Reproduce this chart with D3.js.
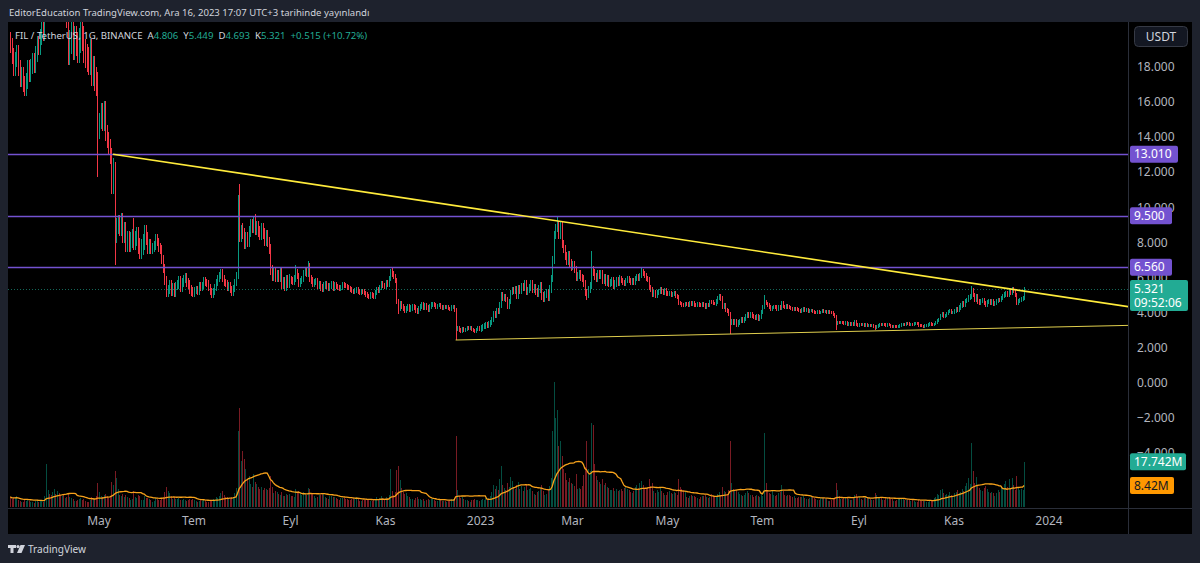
<!DOCTYPE html>
<html>
<head>
<meta charset="utf-8">
<script src="https://cdn.jsdelivr.net/npm/d3@7/dist/d3.min.js"></script>
<style>
  html, body { margin: 0; padding: 0; background: #1e222d; }
  svg { display: block; }
  text { font-family: "Noto Sans", "Open Sans", sans-serif; }
</style>
</head>
<body>
<svg id="chart" width="1200" height="563"></svg>
<script>
// FIL / TetherUS daily closes, one array per month
var close_2022_03 = [19.2, 18.6, 17.9, 18.4, 18.8, 17.9, 17.3, 17.5, 17.0, 16.8, 17.2, 17.9, 17.6, 18.0, 18.3, 18.1, 18.7, 19.3, 19.1, 19.7, 20.1, 19.9, 21.0, 22.4, 23.6, 23.2, 22.8];
var close_2022_04 = [24.5, 26.8, 25.9, 27.3, 25.6, 23.1, 23.6, 22.2, 22.5, 20.9, 18.8, 19.4, 20.0, 19.1, 19.6, 19.3, 18.9, 19.5, 20.1, 19.6, 18.9, 18.6, 18.4, 18.2, 18.9, 17.6, 17.9, 17.3, 17.0, 14.3];
var close_2022_05 = [14.9, 15.5, 14.8, 15.6, 14.2, 13.8, 13.4, 12.9, 11.2, 12.1, 8.4, 8.9, 9.1, 8.8, 9.2, 8.4, 8.7, 7.9, 8.2, 7.9, 8.1, 8.3, 8.0, 8.2, 8.4, 7.8, 7.5, 7.7, 8.0, 8.5, 8.3];
var close_2022_06 = [7.6, 7.9, 7.6, 7.7, 7.8, 8.2, 8.0, 7.7, 7.6, 7.0, 6.5, 5.8, 5.1, 5.3, 5.6, 5.2, 5.4, 5.1, 5.5, 5.6, 5.8, 5.4, 5.7, 5.9, 6.0, 5.7, 5.6, 5.3, 5.2, 5.1];
var close_2022_07 = [5.22, 5.31, 5.18, 5.52, 5.41, 5.55, 5.83, 5.71, 5.62, 5.44, 5.21, 5.02, 5.19, 5.43, 5.72, 5.91, 6.12, 6.28, 5.93, 5.71, 5.62, 5.41, 5.53, 5.31, 5.12, 5.33, 5.71, 6.12, 9.0, 8.2, 8.8];
var close_2022_08 = [8.5, 7.9, 8.3, 8.0, 8.6, 9.0, 8.8, 9.3, 8.7, 8.9, 8.6, 8.4, 8.8, 8.5, 8.1, 8.4, 8.0, 7.6, 6.4, 6.1, 6.3, 6.0, 6.1, 6.0, 6.2, 5.6, 5.7, 5.5, 5.8, 5.7, 5.9];
var close_2022_09 = [5.81, 5.72, 5.93, 6.31, 6.08, 5.62, 5.79, 5.91, 6.22, 6.41, 6.18, 6.62, 5.93, 5.81, 5.63, 5.71, 5.79, 5.52, 5.61, 5.42, 5.31, 5.52, 5.63, 5.48, 5.39, 5.51, 5.62, 5.41, 5.53, 5.49];
var close_2022_10 = [5.41, 5.33, 5.42, 5.61, 5.52, 5.49, 5.41, 5.38, 5.29, 5.21, 5.18, 5.23, 5.31, 5.19, 5.12, 5.21, 5.17, 5.09, 5.01, 4.92, 4.88, 5.02, 4.97, 4.91, 5.12, 5.31, 5.22, 5.41, 5.63, 5.52, 5.48];
var close_2022_11 = [5.71, 5.62, 5.93, 6.31, 6.18, 6.02, 5.81, 4.62, 4.21, 4.52, 4.31, 4.22, 4.11, 4.23, 4.32, 4.19, 4.24, 4.31, 4.28, 4.12, 4.03, 4.21, 4.32, 4.41, 4.29, 4.38, 4.27, 4.19, 4.31, 4.42];
var close_2022_12 = [4.51, 4.42, 4.31, 4.39, 4.42, 4.29, 4.21, 4.32, 4.28, 4.31, 4.22, 4.18, 4.29, 4.33, 4.12, 3.02, 3.11, 2.98, 2.91, 3.08, 2.99, 3.03, 3.11, 3.07, 3.12, 3.01, 2.97, 2.92, 3.03, 3.12, 3.04];
var close_2023_01 = [3.11, 3.18, 3.22, 3.31, 3.24, 3.33, 3.42, 3.61, 3.92, 3.81, 4.12, 4.03, 4.41, 5.02, 4.81, 4.92, 4.71, 4.32, 4.61, 5.12, 5.31, 5.22, 5.33, 4.92, 5.41, 5.18, 5.52, 5.39, 5.71, 5.12, 5.31];
var close_2023_02 = [5.42, 5.61, 5.32, 5.41, 5.19, 5.12, 5.31, 5.52, 4.92, 4.81, 5.02, 5.11, 4.89, 5.31, 5.92, 7.0, 8.4, 8.8, 9.0, 8.4, 8.9, 7.9, 7.6, 7.2, 6.9, 7.3, 6.8, 6.6];
var close_2023_03 = [6.71, 6.42, 6.01, 6.12, 6.21, 5.98, 5.91, 5.62, 5.11, 5.02, 5.31, 5.52, 6.41, 6.28, 6.02, 5.91, 6.22, 6.08, 6.21, 5.82, 6.01, 5.72, 5.91, 5.62, 5.71, 5.82, 5.51, 5.63, 5.81, 5.69, 5.92];
var close_2023_04 = [5.81, 5.72, 5.63, 5.81, 5.92, 5.79, 5.71, 5.82, 5.69, 5.91, 6.02, 5.91, 6.12, 6.31, 6.21, 6.09, 5.92, 5.88, 5.41, 5.31, 5.02, 5.11, 4.98, 5.12, 5.21, 5.32, 5.19, 5.11, 5.22, 5.09];
var close_2023_05 = [5.01, 5.12, 4.98, 5.03, 5.11, 4.92, 4.88, 4.52, 4.49, 4.41, 4.38, 4.51, 4.47, 4.42, 4.53, 4.48, 4.52, 4.41, 4.39, 4.51, 4.43, 4.38, 4.49, 4.41, 4.31, 4.42, 4.39, 4.61, 4.58, 4.51, 4.49];
var close_2023_06 = [4.62, 4.81, 4.92, 4.79, 4.31, 4.42, 4.12, 4.08, 3.91, 3.42, 3.51, 3.39, 3.52, 3.31, 3.42, 3.51, 3.62, 3.49, 3.61, 3.79, 3.92, 3.81, 3.89, 3.78, 3.71, 3.68, 3.79, 3.62, 3.71, 4.02];
var close_2023_07 = [4.31, 4.62, 4.51, 4.42, 4.31, 4.19, 4.28, 4.33, 4.29, 4.18, 4.31, 4.22, 4.52, 4.33, 4.29, 4.38, 4.31, 4.27, 4.21, 4.18, 4.23, 4.19, 4.16, 4.11, 4.08, 4.13, 4.18, 4.09, 4.12, 4.07, 4.11];
var close_2023_08 = [4.12, 4.05, 4.01, 3.98, 4.03, 3.99, 4.02, 4.10, 4.04, 4.06, 4.01, 4.03, 4.00, 3.97, 3.88, 3.76, 3.38, 3.42, 3.39, 3.45, 3.41, 3.33, 3.40, 3.31, 3.37, 3.30, 3.36, 3.29, 3.48, 3.31, 3.27];
var close_2023_09 = [3.30, 3.28, 3.31, 3.27, 3.29, 3.25, 3.28, 3.22, 3.24, 3.19, 3.12, 3.21, 3.24, 3.31, 3.29, 3.33, 3.30, 3.27, 3.32, 3.28, 3.21, 3.19, 3.22, 3.20, 3.17, 3.21, 3.26, 3.30, 3.33, 3.31];
var close_2023_10 = [3.38, 3.35, 3.30, 3.32, 3.28, 3.36, 3.39, 3.34, 3.27, 3.25, 3.22, 3.17, 3.24, 3.26, 3.29, 3.36, 3.31, 3.28, 3.33, 3.42, 3.55, 3.62, 3.84, 3.91, 3.78, 3.82, 3.95, 4.03, 4.12, 3.98, 4.01];
var close_2023_11 = [4.08, 4.18, 4.15, 4.27, 4.39, 4.52, 4.41, 4.63, 4.72, 4.84, 4.90, 5.28, 4.98, 4.71, 4.93, 4.62, 4.51, 4.63, 4.70, 4.52, 4.41, 4.58, 4.64, 4.53, 4.61, 4.49, 4.52, 4.63, 4.71, 4.68];
var close_2023_12 = [4.82, 4.94, 5.02, 5.11, 4.98, 5.19, 5.08, 5.31, 5.22, 4.98, 4.52, 4.63, 4.71, 4.78, 4.806, 5.321];
var firstOpen = 19.6;

// typical wick length of a day in each month (price units)
var wick_typ = [0.45, 0.7, 0.45, 0.25, 0.2, 0.3, 0.18, 0.13, 0.15, 0.1, 0.15, 0.22,
    0.2, 0.14, 0.1, 0.12, 0.1, 0.08, 0.08, 0.08, 0.12, 0.12];

// daily volume, millions of FIL
var vol_2022_03 = [4.0, 3.2, 3.6, 3.4, 4.2, 2.8, 2.5, 2.1, 1.8, 2.6, 2.4, 2.9, 2.2, 2.0, 1.9, 1.7, 2.3, 2.6, 2.1, 2.4, 2.8, 2.0, 4.5, 17.0, 6.5, 5.2, 4.8];
var vol_2022_04 = [5.8, 7.2, 5.0, 6.4, 5.6, 4.6, 4.2, 5.0, 3.4, 3.8, 5.6, 4.0, 3.5, 3.0, 2.5, 2.3, 2.6, 3.2, 3.6, 2.8, 3.1, 2.5, 2.1, 2.0, 2.8, 3.9, 3.0, 3.2, 4.3, 9.5];
var vol_2022_05 = [6.0, 4.4, 3.8, 4.9, 5.1, 4.5, 3.5, 4.0, 9.8, 8.6, 14.0, 11.2, 7.0, 4.8, 4.2, 5.2, 4.1, 4.6, 4.0, 3.5, 2.9, 3.1, 6.4, 3.8, 3.4, 4.6, 4.3, 2.9, 2.6, 4.4, 3.7];
var vol_2022_06 = [3.4, 3.0, 2.8, 2.1, 2.3, 3.7, 3.2, 2.8, 2.6, 3.5, 3.9, 6.0, 7.8, 6.2, 5.6, 4.2, 3.1, 4.1, 3.3, 3.0, 3.5, 2.9, 2.8, 3.1, 2.7, 2.3, 2.8, 3.0, 2.8, 3.0];
var vol_2022_07 = [2.8, 2.2, 2.0, 2.5, 2.9, 2.4, 2.7, 2.6, 2.1, 2.0, 2.5, 2.8, 3.3, 2.7, 3.8, 3.6, 4.4, 5.6, 6.2, 4.8, 4.1, 3.9, 3.5, 3.2, 3.8, 4.0, 5.6, 7.5, 30.0, 39.0, 18.0];
var vol_2022_08 = [22, 19, 15, 11, 12, 9, 8, 13, 10, 9, 8, 7, 8, 6.5, 7.5, 7, 6.5, 7.5, 12, 8, 5.5, 6.2, 5.8, 5.0, 4.8, 6.0, 4.4, 4.2, 5.2, 4.8, 5.0];
var vol_2022_09 = [4.5, 4.2, 3.8, 7.0, 5.3, 6.4, 5.4, 4.6, 6.0, 5.2, 4.8, 7.4, 7.0, 5.2, 5.0, 4.4, 3.7, 4.1, 4.8, 4.6, 5.4, 5.1, 4.0, 3.5, 3.3, 4.2, 4.4, 4.0, 3.8, 3.7];
var vol_2022_10 = [3.2, 2.9, 3.4, 3.7, 3.5, 3.2, 3.0, 2.6, 2.7, 3.3, 3.5, 3.0, 3.9, 3.2, 2.5, 2.3, 2.7, 2.8, 2.6, 2.9, 2.8, 2.3, 2.2, 2.7, 3.3, 3.8, 3.1, 3.6, 4.2, 3.5, 3.2];
var vol_2022_11 = [3.8, 3.4, 4.6, 15.0, 6.2, 4.8, 5.8, 14.5, 16.0, 10.5, 7.4, 5.9, 5.0, 5.3, 4.3, 3.9, 3.3, 3.0, 2.7, 3.5, 3.9, 3.2, 3.1, 2.9, 3.0, 2.5, 2.8, 3.1, 2.6, 3.3];
var vol_2022_12 = [3.2, 2.7, 2.4, 2.3, 2.9, 2.6, 2.5, 2.2, 2.4, 2.1, 2.2, 2.9, 3.1, 3.0, 3.4, 28.0, 6.5, 4.4, 3.6, 4.0, 3.1, 2.8, 2.6, 2.2, 2.0, 2.7, 2.8, 3.0, 2.7, 2.9, 2.5];
var vol_2023_01 = [2.6, 3.0, 2.8, 3.5, 3.1, 3.6, 4.2, 5.8, 8.5, 7.0, 8.2, 6.5, 10.8, 16.0, 8.6, 7.4, 6.8, 9.5, 7.9, 11.6, 10.2, 8.0, 7.2, 8.8, 10.0, 6.9, 8.3, 6.1, 7.8, 9.0, 6.5];
var vol_2023_02 = [7.0, 7.6, 6.2, 5.0, 4.6, 5.7, 6.4, 7.5, 8.6, 6.3, 4.8, 5.1, 7.1, 8.4, 11.5, 30.0, 49.0, 35.0, 38.0, 24.0, 26.0, 20.0, 15.0, 13.5, 10.5, 10.0, 11.5, 9.5];
var vol_2023_03 = [9.0, 8.4, 12.8, 7.2, 7.6, 6.9, 8.2, 12.5, 15.5, 26.0, 15.0, 14.0, 33.0, 32.0, 17.0, 12.0, 10.5, 9.8, 9.2, 11.0, 8.6, 9.5, 8.0, 7.4, 6.5, 6.8, 7.6, 6.2, 7.1, 6.4, 6.6];
var vol_2023_04 = [7.2, 6.4, 7.4, 7.8, 7.0, 6.6, 6.0, 5.6, 6.2, 7.9, 8.6, 7.6, 9.4, 10.2, 8.5, 7.0, 7.5, 7.8, 10.8, 8.3, 9.3, 6.4, 5.5, 6.8, 6.0, 7.6, 6.2, 5.6, 4.9, 4.7];
var vol_2023_05 = [5.8, 6.4, 5.5, 5.2, 6.0, 5.3, 4.7, 10.9, 7.8, 6.9, 6.7, 6.0, 3.9, 3.6, 4.4, 4.6, 4.4, 4.2, 4.0, 3.4, 3.1, 4.1, 4.5, 4.3, 4.7, 4.0, 3.5, 4.1, 5.0, 4.4, 4.2];
var vol_2023_06 = [4.5, 5.2, 5.7, 4.8, 8.0, 6.3, 5.9, 5.1, 6.5, 26.0, 9.3, 7.2, 6.4, 6.8, 6.0, 5.1, 4.7, 4.5, 4.8, 5.5, 6.1, 5.3, 4.9, 4.7, 4.1, 4.4, 4.8, 4.3, 3.9, 5.4];
var vol_2023_07 = [4.2, 29.0, 9.5, 6.2, 5.5, 5.0, 6.1, 4.8, 4.2, 4.6, 5.3, 5.9, 8.8, 6.1, 4.9, 4.4, 4.8, 4.6, 4.3, 4.0, 4.2, 3.6, 3.4, 3.8, 4.1, 3.9, 4.4, 3.7, 3.2, 3.0, 3.5];
var vol_2023_08 = [3.9, 4.2, 3.6, 3.3, 2.8, 2.6, 3.4, 3.7, 3.5, 3.2, 3.0, 2.5, 2.4, 2.9, 3.1, 3.6, 9.5, 6.8, 4.2, 3.1, 3.3, 3.5, 3.8, 3.4, 3.0, 2.6, 2.7, 3.6, 4.8, 5.0, 4.1];
var vol_2023_09 = [3.8, 3.3, 2.9, 3.5, 3.9, 3.6, 3.4, 3.2, 2.7, 2.9, 5.6, 4.7, 3.8, 4.1, 3.6, 2.8, 2.6, 3.4, 3.5, 3.9, 3.2, 3.0, 2.4, 2.3, 2.8, 3.0, 3.3, 3.6, 3.2, 2.6];
var vol_2023_10 = [2.9, 3.1, 2.7, 2.5, 2.6, 2.4, 2.1, 2.0, 2.8, 2.6, 2.4, 2.3, 2.5, 2.1, 2.0, 2.9, 2.6, 2.4, 3.5, 4.1, 5.2, 4.8, 6.6, 7.0, 5.4, 4.6, 5.1, 4.9, 5.8, 4.6, 4.4];
var vol_2023_11 = [5.3, 6.0, 6.8, 5.6, 5.9, 7.2, 6.3, 8.4, 9.6, 11.2, 9.0, 25.0, 14.0, 9.5, 11.8, 8.6, 7.3, 6.8, 6.1, 7.4, 8.2, 6.9, 5.8, 5.5, 6.0, 5.3, 4.5, 5.6, 6.6, 5.9];
var vol_2023_12 = [8.2, 7.4, 9.0, 10.2, 8.0, 10.8, 7.6, 11.5, 8.8, 6.5, 12.0, 7.8, 6.8, 7.0, 6.5, 17.742];

// first day of each block
var months = [
    ['2022-03-05', close_2022_03, vol_2022_03],
    ['2022-04-01', close_2022_04, vol_2022_04],
    ['2022-05-01', close_2022_05, vol_2022_05],
    ['2022-06-01', close_2022_06, vol_2022_06],
    ['2022-07-01', close_2022_07, vol_2022_07],
    ['2022-08-01', close_2022_08, vol_2022_08],
    ['2022-09-01', close_2022_09, vol_2022_09],
    ['2022-10-01', close_2022_10, vol_2022_10],
    ['2022-11-01', close_2022_11, vol_2022_11],
    ['2022-12-01', close_2022_12, vol_2022_12],
    ['2023-01-01', close_2023_01, vol_2023_01],
    ['2023-02-01', close_2023_02, vol_2023_02],
    ['2023-03-01', close_2023_03, vol_2023_03],
    ['2023-04-01', close_2023_04, vol_2023_04],
    ['2023-05-01', close_2023_05, vol_2023_05],
    ['2023-06-01', close_2023_06, vol_2023_06],
    ['2023-07-01', close_2023_07, vol_2023_07],
    ['2023-08-01', close_2023_08, vol_2023_08],
    ['2023-09-01', close_2023_09, vol_2023_09],
    ['2023-10-01', close_2023_10, vol_2023_10],
    ['2023-11-01', close_2023_11, vol_2023_11],
    ['2023-12-01', close_2023_12, vol_2023_12]
];

// long wicks that stand out: [day, high, low]
var wicks = [
    ['2022-03-05', 20.0, null], ['2022-03-14', null, 16.3], ['2022-04-30', null, 11.7],
    ['2022-05-10', 12.8, null], ['2022-05-11', null, 6.7], ['2022-05-23', 9.4, null],
    ['2022-06-13', null, 4.9], ['2022-07-29', 10.7, null], ['2022-07-30', 11.3, null],
    ['2022-08-08', 9.5, null], ['2022-09-04', 6.7, null], ['2022-09-12', 6.9, null],
    ['2022-11-05', 6.6, null], ['2022-11-09', null, 3.9], ['2022-12-16', null, 2.42],
    ['2023-02-19', 9.5, null], ['2023-03-10', null, 4.7], ['2023-03-13', 7.5, null],
    ['2023-04-14', 6.5, null], ['2023-06-10', null, 2.78], ['2023-07-02', 5.0, null],
    ['2023-08-17', null, 3.0], ['2023-09-11', null, 3.0], ['2023-11-12', 5.5, null],
    ['2023-12-08', 5.42, null], ['2023-12-11', null, 4.4], ['2023-12-16', 5.449, 4.693]
];

var levels = [13.010, 9.500, 6.560];
var upperTrend = [['2022-05-10', 13.01], ['2023-12-16', 5.21]];
var lowerTrend = [['2022-12-16', 2.42], ['2023-06-10', 2.76]];

var priceTicks = [18, 16, 14, 12, 10, 8, 6, 4, 2, 0, -2, -4];
var timeTicks = ['2022-05-01', '2022-07-01', '2022-09-01', '2022-11-01', '2023-01-01', '2023-03-01',
    '2023-05-01', '2023-07-01', '2023-09-01', '2023-11-01', '2024-01-01'];
var timeLabels = ['May', 'Tem', 'Eyl', 'Kas', '2023', 'Mar', 'May', 'Tem', 'Eyl', 'Kas', '2024'];

var countdown = '09:52:06';
var publishLine = 'EditorEducation TradingView.com, Ara 16, 2023 17:07 UTC+3 tarihinde yayınlandı';
var symbolLine = 'FIL / TetherUS, 1G, BINANCE';

// ---------------------------------------------------------------
var parseDay = d3.utcParse('%Y-%m-%d');
var upColor = '#089981', downColor = '#f23645';
var volUp = 'rgba(8,153,129,0.5)', volDown = 'rgba(242,54,69,0.5)';
var axisText = '#b2b5be';

var candles = [];
var prev = firstOpen;
months.forEach(function(m, mi) {
    var start = parseDay(m[0]);
    var w = wick_typ[mi];
    m[1].forEach(function(c, i) {
        candles.push({
            date: d3.utcDay.offset(start, i),
            open: prev, close: c,
            high: Math.max(prev, c) + w, low: Math.min(prev, c) - w,
            vol: m[2][i]
        });
        prev = c;
    });
});
var byDay = {};
candles.forEach(function(d) { byDay[d3.utcFormat('%Y-%m-%d')(d.date)] = d; });
wicks.forEach(function(w) {
    var d = byDay[w[0]];
    if (!d) return;
    if (w[1] != null) d.high = w[1];
    if (w[2] != null) d.low = w[2];
});
// 20 day volume average
candles.forEach(function(d, i) {
    d.ma = d3.mean(candles.slice(Math.max(0, i - 19), i + 1), function(e) { return e.vol; });
});

var L = 8, T = 22, R = 1128, B = 508;
var x = d3.scaleUtc().domain([parseDay('2022-05-01'), parseDay('2024-01-01')]).range([99, 1049]);
var y = d3.scaleLinear().domain([0, 18]).range([382.5, 382.5 - 18 * 17.55]);
var yv = d3.scaleLinear().domain([0, 10]).range([507, 507 - 25.5]);

var svg = d3.select('#chart');
svg.append('rect').attr('width', 1200).attr('height', 563).attr('fill', '#1e222d');
svg.append('rect').attr('x', L).attr('y', T).attr('width', 1192 - L).attr('height', 534 - T).attr('fill', '#000');

svg.append('defs').append('clipPath').attr('id', 'pane')
    .append('rect').attr('x', L).attr('y', T).attr('width', R - L).attr('height', B - T);

var g = svg.append('g').attr('clip-path', 'url(#pane)');

// volume
g.append('g').selectAll('rect').data(candles).join('rect')
    .attr('x', function(d) { return Math.round(x(d.date)); })
    .attr('y', function(d) { return yv(d.vol); })
    .attr('width', 1)
    .attr('height', function(d) { return yv(0) - yv(d.vol); })
    .attr('fill', function(d) { return d.close >= d.open ? volUp : volDown; })
    .attr('shape-rendering', 'crispEdges');

g.append('path').datum(candles)
    .attr('d', d3.line().x(function(d) { return x(d.date); }).y(function(d) { return yv(d.ma); }))
    .attr('fill', 'none').attr('stroke', '#f7a21b').attr('stroke-width', 1.3);

// candles (1px wide at this zoom, so body and wick share the bar)
g.append('g').selectAll('rect').data(candles).join('rect')
    .attr('x', function(d) { return Math.round(x(d.date)); })
    .attr('y', function(d) { return y(d.high); })
    .attr('width', 1)
    .attr('height', function(d) { return Math.max(1, y(d.low) - y(d.high)); })
    .attr('fill', function(d) { return d.close >= d.open ? upColor : downColor; })
    .attr('shape-rendering', 'crispEdges');

// last price dotted line
var last = candles[candles.length - 1];
var before = candles[candles.length - 2];
g.append('line')
    .attr('x1', L).attr('x2', R)
    .attr('y1', Math.round(y(last.close)) + 0.5).attr('y2', Math.round(y(last.close)) + 0.5)
    .attr('stroke', '#22ab94').attr('stroke-opacity', 0.6).attr('stroke-dasharray', '1,2');

// horizontal levels
g.selectAll('line.level').data(levels).join('line')
    .attr('class', 'level')
    .attr('x1', L).attr('x2', R)
    .attr('y1', function(d) { return Math.round(y(d)) + 0.5; })
    .attr('y2', function(d) { return Math.round(y(d)) + 0.5; })
    .attr('stroke', '#7352d0').attr('stroke-width', 1.3);

// trend lines, extended to the right edge
function trendPath(pts) {
    var d0 = parseDay(pts[0][0]), d1 = parseDay(pts[1][0]);
    var slope = (pts[1][1] - pts[0][1]) / (d1 - d0);
    var dEnd = x.invert(R + 2);
    return [[x(d0), y(pts[0][1])], [x(dEnd), y(pts[0][1] + slope * (dEnd - d0))]];
}
g.append('path').attr('d', d3.line()(trendPath(upperTrend)))
    .attr('stroke', '#ffeb3b').attr('stroke-width', 1.6).attr('fill', 'none');
g.append('path').attr('d', d3.line()(trendPath(lowerTrend)))
    .attr('stroke', '#e0cf4e').attr('stroke-width', 1).attr('fill', 'none');

// frame separators
svg.append('line').attr('x1', R + 0.5).attr('x2', R + 0.5).attr('y1', T).attr('y2', 534)
    .attr('stroke', '#2a2e39');
svg.append('line').attr('x1', L).attr('x2', 1192).attr('y1', B + 0.5).attr('y2', B + 0.5)
    .attr('stroke', '#2a2e39');

// time axis
svg.append('g').selectAll('text').data(timeTicks).join('text')
    .attr('x', function(d) { return x(parseDay(d)); })
    .attr('y', 525)
    .attr('text-anchor', 'middle')
    .attr('font-size', 12)
    .attr('fill', axisText)
    .text(function(d, i) { return timeLabels[i]; });

// price axis ticks
var fmt3 = d3.format('.3f');
svg.append('g').selectAll('text').data(priceTicks).join('text')
    .attr('x', 1137)
    .attr('y', function(d) { return y(d) + 4.5; })
    .attr('font-size', 12)
    .attr('fill', axisText)
    .text(function(d) { return fmt3(d).replace('-', '\u2212'); });

function tag(yc, lines, fill, color, w) {
    var h = lines.length === 1 ? 17 : 31;
    var top = lines.length === 1 ? yc - h / 2 : yc - 9;
    svg.append('rect').attr('x', 1130).attr('y', top).attr('width', w).attr('height', h)
        .attr('rx', 2).attr('fill', fill);
    lines.forEach(function(t, i) {
        svg.append('text').attr('x', 1134).attr('y', top + 12.5 + i * 14)
            .attr('font-size', 12).attr('fill', color).text(t);
    });
}
levels.forEach(function(v) { tag(y(v), [fmt3(v)], '#7352d0', '#fff', v >= 10 ? 48 : 42); });
tag(y(last.close), [fmt3(last.close), countdown], '#22ab94', '#fff', 58);
tag(yv(last.vol), [d3.format('.3f')(last.vol) + 'M'], '#22ab94', '#fff', 56);
tag(yv(last.ma), [d3.format('.2f')(last.ma) + 'M'], '#ff9800', '#131722', 44);

// currency box
svg.append('rect').attr('x', 1134.5).attr('y', 26.5).attr('width', 53).attr('height', 20)
    .attr('rx', 4).attr('fill', '#131722').attr('stroke', '#363a45');
svg.append('text').attr('x', 1161).attr('y', 41).attr('text-anchor', 'middle')
    .attr('font-size', 12).attr('fill', '#d1d4dc').text('USDT');

function fitText(sel, width) {
    var w = sel.node().getComputedTextLength();
    var fs = parseFloat(sel.attr('font-size'));
    sel.attr('font-size', (fs * width / w).toFixed(2));
}

// header
fitText(svg.append('text').attr('x', 9).attr('y', 16).attr('font-size', 11)
    .attr('fill', '#d1d4dc').text(publishLine), 361);

var chg = last.close - before.close;
var legend = svg.append('text').attr('x', 15).attr('y', 39).attr('font-size', 11)
    .style('white-space', 'pre');
legend.append('tspan').attr('fill', '#d1d4dc').text(symbolLine + '  ');
[['A', last.open], ['Y', last.high], ['D', last.low], ['K', last.close]].forEach(function(p) {
    legend.append('tspan').attr('fill', '#d1d4dc').text(p[0]);
    legend.append('tspan').attr('fill', '#22ab94').text(fmt3(p[1]) + '  ');
});
legend.append('tspan').attr('fill', '#22ab94')
    .text((chg >= 0 ? '+' : '') + fmt3(chg) + ' (' + (chg >= 0 ? '+' : '') + d3.format('.2f')(chg / before.close * 100) + '%)');
fitText(legend, 353);

// footer logo
var logo = svg.append('g').attr('fill', '#d1d4dc');
logo.append('path').attr('d', 'M8 545h8v3h-2.5v5h-3v-5H8z');
logo.append('circle').attr('cx', 18).attr('cy', 546.6).attr('r', 1.6);
logo.append('path').attr('d', 'M20.5 545h4.5l-3.5 8h-4.5z');
fitText(svg.append('text').attr('x', 28).attr('y', 553).attr('font-size', 13)
    .attr('fill', '#d1d4dc').text('TradingView'), 58);
</script>
</body>
</html>
